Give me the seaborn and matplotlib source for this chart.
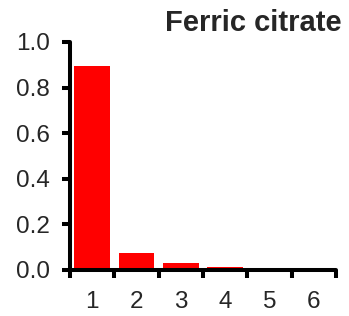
import matplotlib
matplotlib.use("Agg")
import matplotlib.pyplot as plt
import seaborn as sns
from matplotlib.ticker import FixedLocator

# --- data ---
groups = ["1", "2", "3", "4", "5", "6"]
fraction = [0.896, 0.073, 0.032, 0.012, 0.010, 0.002]
title = "Ferric citrate"

# --- style ---
sns.set_style("ticks")
plt.rcParams['font.family'] = ['Liberation Sans', 'DejaVu Sans']

fig = plt.figure(figsize=(3.49, 3.16), dpi=100)
ax = fig.add_axes([0.2006, 0.1456, 0.7622, 0.7215])

sns.barplot(x=groups, y=fraction, color="#ff0000", saturation=1, width=0.8,
            linewidth=0, ax=ax)

ax.set_xlim(-0.5, 5.5)
ax.set_ylim(0, 1.0)
ax.set_yticks([0.0, 0.2, 0.4, 0.6, 0.8, 1.0])
ax.set_yticklabels(["0.0", "0.2", "0.4", "0.6", "0.8", "1.0"])
ax.xaxis.set_minor_locator(FixedLocator([i - 0.5 for i in range(len(groups) + 1)]))

sns.despine(ax=ax)
for side in ["left", "bottom"]:
    ax.spines[side].set_linewidth(2.9)
    ax.spines[side].set_color("black")
    ax.spines[side].set_capstyle("round")

ax.tick_params(axis="y", which="major", length=5.5, width=2.9, color="black",
               labelsize=17.5, pad=9)
ax.tick_params(axis="x", which="major", length=0, labelsize=17.5, pad=15)
ax.tick_params(axis="x", which="minor", length=6, width=2.9, color="black")
for t in ax.xaxis.get_minorticklines() + ax.yaxis.get_majorticklines():
    t.set_solid_capstyle("round")

ax.set_xlabel("")
ax.set_ylabel("")

fig.text(0.98, 0.902, title, ha="right", va="baseline", fontsize=21,
         fontweight="bold")

fig.savefig("out.png", dpi=100)
